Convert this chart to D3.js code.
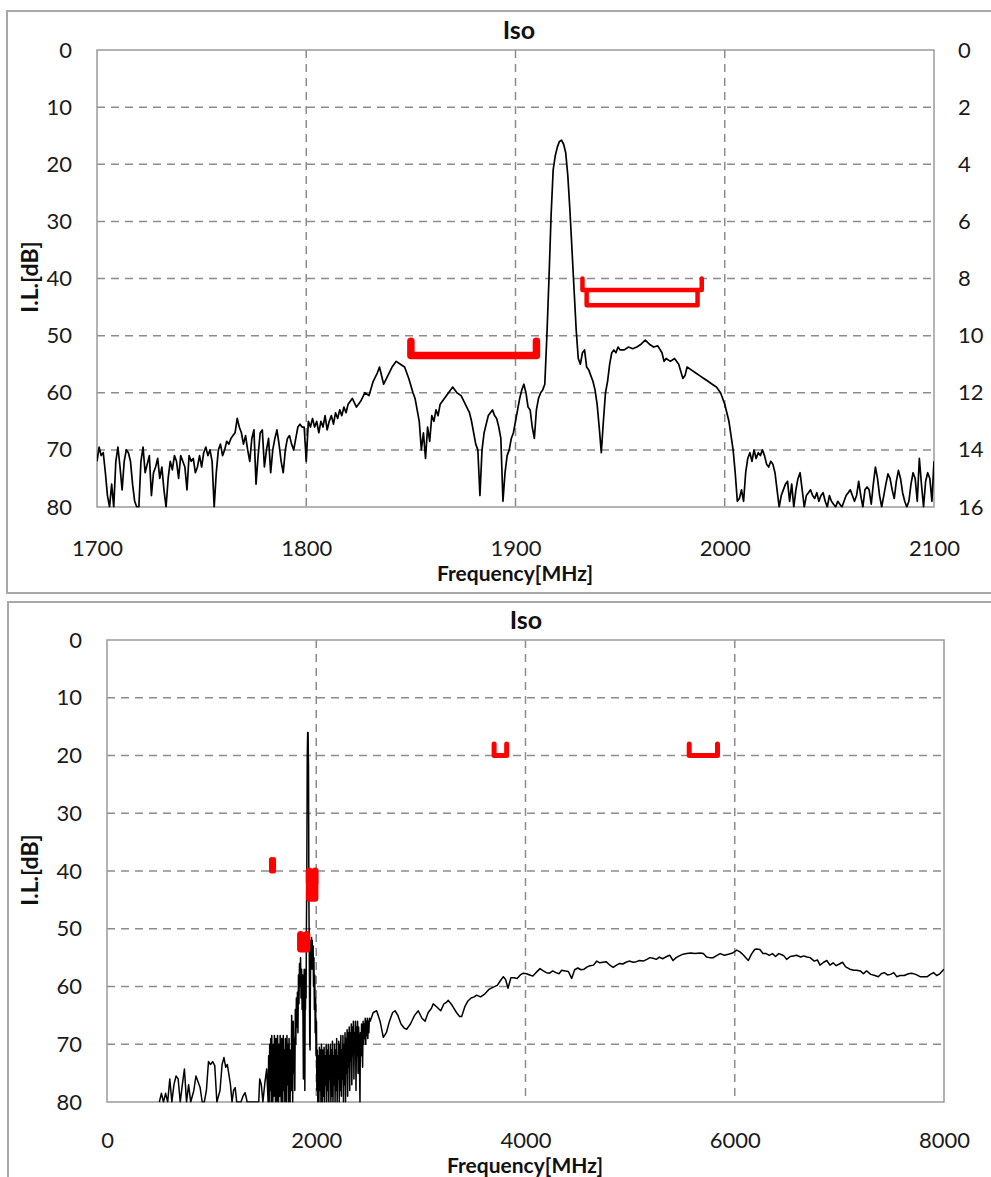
<!DOCTYPE html>
<html>
<head>
<meta charset="utf-8">
<script src="https://cdn.jsdelivr.net/npm/d3@7"></script>
<style>
  body { margin: 0; background: #fff; }
  svg { display: block; font-family: Lato, "Open Sans", sans-serif; }
</style>
</head>
<body>
<svg width="991" height="1177"></svg>
<script>
// ---- data ----
// narrow sweep (top panel), MHz / dB
const topFreq = [1700,1701,1702,1703,1704,1705,1706,1707,1708,1709,1710,1711,1712,1713,1714,1715,1716,1717,1718,1719,1720,1721,1722,1723,1724,1725,1726,1727,1728,1729,1730,1731,1732,1733,1734,1735,1736,1737,1738,1739,1740,1741,1742,1743,1744,1745,1746,1747,1748,1749,1750,1751,1752,1753,1754,1755,1756,1757,1758,1759,1760,1761,1762,1763,1764,1765,1766,1767,1768,1769,1770,1771,1772,1773,1774,1775,1776,1777,1778,1779,1780,1781,1782,1783,1784,1785,1786,1787,1788,1789,1790,1791,1792,1793,1794,1795,1796,1797,1798,1799,1800,1801,1802,1803,1804,1805,1806,1807,1808,1809,1810,1811,1812,1813,1814,1815,1816,1817,1818,1819,1820,1822,1824,1826,1828,1830,1832,1834,1835,1837,1839,1841,1843,1845,1847,1849,1851,1852,1853,1854,1855,1856,1857,1858,1859,1860,1861,1862,1863,1864,1866,1868,1870,1872,1874,1876,1878,1879,1880,1881,1882,1883,1884,1885,1886,1887,1888,1889,1890,1891,1892,1893,1894,1895,1896,1897,1898,1899,1900,1901,1902,1903,1904,1905,1906,1907,1908,1909,1910,1911,1912,1913,1914,1915,1916,1917,1918,1919,1920,1921,1922,1923,1924,1925,1926,1927,1928,1929,1930,1931,1932,1933,1934,1935,1936,1937,1938,1939,1940,1941,1942,1943,1944,1945,1946,1947,1948,1949,1950,1952,1954,1956,1958,1960,1962,1964,1966,1968,1970,1971,1972,1974,1976,1978,1980,1981,1982,1984,1986,1988,1990,1992,1994,1996,1998,2000,2002,2004,2005,2006,2007,2008,2009,2010,2011,2012,2013,2014,2015,2016,2017,2018,2019,2020,2021,2022,2023,2024,2025,2026,2027,2028,2029,2030,2031,2032,2033,2034,2035,2036,2037,2038,2039,2040,2041,2042,2043,2044,2045,2046,2047,2048,2049,2050,2051,2052,2053,2054,2055,2056,2057,2058,2059,2060,2061,2062,2063,2064,2065,2066,2067,2068,2069,2070,2071,2072,2073,2074,2075,2076,2077,2078,2079,2080,2081,2082,2083,2084,2085,2086,2087,2088,2089,2090,2091,2092,2093,2094,2095,2096,2097,2098,2099,2100];
const topLoss = [72,69.5,71,70.5,74,78,80,76,80,72,69.5,73,77,72,70,70.5,72,76,79,80,80,72,69.5,74,72.5,71,78,74,73,71.5,75,73,77,80,75,72,73.5,71,72,75,71,72,73,77,71,72,71.5,74,73,71,73,70.5,69.5,71,70,72,80,74,70,69,71,70,68.5,69,68,67.5,67,64.5,66,67,69,67.5,70,72,68,66.5,76,71,67,66.5,73,70,68,74,70,68,66.5,69,72,74,70,68,67.5,69,70,68,66,65.5,66,66,72,65,66,64.5,66,65,67,65,66,64,66.5,65,64,65.5,63.5,64.5,63,64,62.5,63.5,62,61,62.5,61.5,60,60.5,58,56.5,55.5,58.5,57,55.5,54.5,55,55.5,57.5,60,61,63,65,70,67,71.5,66,68.5,64,65,63,64,62,61,60,59,60,60.5,62,63.5,65,67,69,70,78,70,67,65.5,64,63.5,63,64,64.5,66,68,79,74,71,70,68,67,65,63,61,59.5,58.5,60,62.5,63,66,68,63,61,60,59.5,58.5,50,40,29,21,18.5,17,16,15.8,16.5,18,22,28,35,42,49,54,55,53,52.5,55.5,56,57,58,59.5,62,66,70.5,65,60,58,55,53,52.5,53,52,52.5,52.5,52,52.3,52,51.5,50.8,51.5,52,51.8,53,54.5,54,54.5,54,55,57.5,57,55.5,56,56.5,57,57.5,58,58.5,59,60,62,65,70,74,79,78.5,77,79,74,71.5,70.5,72,70,71.5,70.5,71,70,71,72.5,73,72,72.5,74,77,80,78,77,76,75.5,79,76,80,77,75,74,77,80,78,77.5,77,78,78.5,77.5,79,78,77.5,79,80,78,79,79.5,80,79,79.5,80,79,78,77.5,77,78,79,78,75.5,78,80,77,76.5,77,79.5,76,73,75,78,80,78,76,74.2,75,77,78.5,75.5,73.6,75,77.5,79,80,79,76,74,75,79,71.5,76,80,75.5,74,75,79,72];

// wide sweep (bottom panel), MHz / dB
const wideFreq = [500,520,540,560,580,600,620,640,660,680,700,720,740,760,780,800,830,850,870,890,910,930,950,970,990,1010,1030,1050,1080,1100,1118,1135,1150,1165,1180,1195,1210,1225,1240,1260,1280,1300,1320,1340,1360,1400,1430,1450,1460,1475,1490,1510,1526,
  1540,1545,1550,1555,1560,1565,1570,1575,1580,1585,1590,1595,1600,1605,1610,1615,1620,1625,1630,1635,1640,1645,1650,1655,1660,1665,1670,1675,1680,1685,1690,1695,1700,1705,1710,1715,1720,1725,1730,1735,1740,1745,1750,1755,1760,1765,1770,1775,1780,1785,1790,1795,1800,1805,1810,1815,1820,1825,1830,1835,1840,1845,1850,1855,1860,1865,1870,1875,
  1877,1880,1885,1888,1891,1894,1897,1900,1903,1906,
  1910,1914,1918,1922,1926,1930,1934,1938,1941,1944,1948,1952,1955,1958,1962,1966,1970,1974,1978,1982,1986,1990,1994,1998,2002,2006,2010,
  2015,2020,2025,2030,2035,2040,2045,2050,2055,2060,2065,2070,2075,2080,2085,2090,2095,2100,2105,2110,2115,2120,2125,2130,2135,2140,2145,2150,2155,2160,2165,2170,2175,2180,2185,2190,2195,2200,2205,2210,2215,2220,2225,2230,2235,2240,2245,2250,2255,2260,2265,2270,2275,2280,2285,2290,2295,2300,2305,2310,2315,2320,2325,2330,2335,2340,2345,2350,2355,2360,2365,2370,2375,2380,2385,2390,2395,2400,2405,2410,2415,
  2418,2422,2428,2433,2438,2443,2448,2453,2458,2463,2468,2473,2478,2483,2488,2493,2498,2503,2508,2515,
  2545,2577,2610,2641,2670,2700,2730,2753,2780,2810,2840,2864,2900,2940,2975,3010,3040,3070,3100,3118,3150,3190,3220,3240,3262,3300,3340,3370,3390,3420,3450,3480,3510,3533,3570,3610,3650,3693,3730,3760,3788,3810,3833,3860,3890,3920,3950,3979,4010,4040,4070,4100,4139,4170,4200,4230,4260,4290,4320,4346,4380,4410,4441,4470,4500,4530,4560,4590,4617,4650,4681,4710,4740,4770,4800,4838,4870,4900,4930,4960,4990,5030,5060,5090,5125,5160,5190,5220,5250,5280,5310,5350,5380,5410,5440,5470,5506,5540,5580,5620,5668,5700,5730,5760,5795,5830,5860,5900,5940,5980,6019,6050,6080,6110,6130,6160,6190,6210,6240,6270,6300,6330,6360,6390,6420,6450,6470,6496,6530,6560,6590,6630,6660,6690,6720,6760,6790,6815,6850,6880,6910,6940,6970,7000,7030,7060,7100,7140,7166,7200,7230,7260,7300,7340,7372,7400,7430,7460,7490,7520,7548,7580,7620,7660,7690,7730,7771,7810,7840,7870,7900,7930,7960,7990,8000];
const wideLoss = [80,78.5,80,78.5,80,76,80,77,75.5,76,80,77,74.3,80,77,80,78,75.5,76.5,77.5,80,80,78,73,73.5,73,73.7,80,78,73.5,72.3,74,73.5,75.2,77,80,78,77.5,80,80,80,79,78.4,80,80,80,80,80,76,77,80,76.5,74.3,
  80,72,80,70,78,69,80,68.5,76,80,70,79,68.5,75,80,69,77,80,68.5,73,80,70,79,68.5,76,80,69,74,80,68.5,78,71,80,69,75,80,68.5,77,70,80,69,76,80,71,78,65,72,80,66,75,69,78,64,70,62,67,61,68,58,63,56,60,55,62,57,64,58,70,
  76,62,57,66,78,60,64,57,62,50,
  40,20,16,16,22,45,56,70,71,60,52,57,51.5,55,52,57,53,60,55,64,58,68,62,72,66,78,71,
  80,72,80,70.5,78,71,80,70,76,80,71,79,70.5,80,72,77,70,80,71,78,70,80,72,76,70,80,71,79,69.5,80,72,77,70,80,71,78,69,80,72,76,69.5,80,70,78,68.5,79,71,76,68.5,80,70,77,68,80,69,75,67.5,79,68,74,67,78,68,73,66.5,77,67,72,66,76,68,71,66,78,67,72,66,75,67,70,76,
  80,68,72,66.5,70,74,66,70,66.5,69,65.5,70,66,68.5,65.5,69,66,68,65.5,66,
  64.5,64.2,66,68.8,68,66,64.5,64.2,65,66.5,67.2,67.4,66.5,65,64.2,65.5,66,64.5,63.8,63,63.5,64.2,63,62.8,62.4,63.3,64.5,65.2,65.2,63.5,62.5,62,61.8,61.5,61.8,61.3,60.5,60.1,59.8,59,58.3,58.8,60.3,58.5,58.5,58.6,58,57.7,57.8,58,58.2,57.6,56.9,57.3,57.6,57.7,57.3,57.6,57.8,57.2,57.3,57.4,58.6,57.1,56.8,57.1,57,56.6,56.4,56.3,55.6,55.9,55.8,55.7,56.2,56.7,56.3,56,56.1,55.8,55.6,55.8,55.7,55.5,55.6,55.3,55,55.1,55.3,54.9,55.2,54.8,54.6,55.5,55,54.7,54.4,54.3,54.2,54.3,54.2,54.3,54.9,55,55,54.6,54.3,54.6,54.4,54.2,53.7,54,54.5,55.1,55.5,54.4,53.6,53.5,53.6,54.3,54.3,54.6,54.3,54.8,54.3,54.5,54.7,55.3,54.8,54.7,54.6,54.9,54.7,54.9,55,55.6,55.4,56.3,55.8,55.5,56.3,55.9,56.4,56.1,55.8,56.6,57,57.2,57.2,57.3,57.8,57.3,57.9,58.1,58.3,57.8,57.6,58,57.9,57.6,58.3,58.1,58.1,57.8,57.7,57.9,58.3,58.3,58.3,57.9,57.6,58.1,57.8,57.2,57];

// spec masks (red brackets): band edges in MHz, floor level and end-tick level in dB
const maskStart = [1850, 1932, 1934, 1572, 3700, 5565];
const maskStop  = [1910, 1989, 1987, 1592, 3820, 5835];
const maskLevel = [53.5, 42, 44.7, 40, 20, 20];
const maskEdge  = [51, 40, 42.3, 38, 18, 18];

// axis ticks
const lossTicks = [0, 10, 20, 30, 40, 50, 60, 70, 80];
const rightTicks = [0, 2, 4, 6, 8, 10, 12, 14, 16];
const topFreqTicks = [1700, 1800, 1900, 2000, 2100];
const wideFreqTicks = [0, 2000, 4000, 6000, 8000];

const svg = d3.select("svg");
const toPoints = (fs, ls) => fs.map((f, i) => ({ f: f, l: ls[i] }));

const panels = [
  {
    id: "top",
    frame: { x: 7, y: 11, w: 992, h: 582 },
    plot: { l: 97, t: 50, r: 934, b: 507 },
    xDomain: [1700, 2100], xTicks: topFreqTicks,
    points: toPoints(topFreq, topLoss),
    right: true,
    titleX: 519, titleY: 39,
    xTickPad: 33,
    xTitleX: 515, xTitleY: 581,
    yTitleY: 277,
    lineWidth: 1.7,
    maskWidth: [7.5, 4.5, 4.5, 4.5, 4.5, 4.5]
  },
  {
    id: "bottom",
    frame: { x: 8, y: 602, w: 992, h: 600 },
    plot: { l: 107, t: 640, r: 944, b: 1102 },
    xDomain: [0, 8000], xTicks: wideFreqTicks,
    points: toPoints(wideFreq, wideLoss),
    right: false,
    titleX: 526, titleY: 629,
    xTickPad: 30,
    xTitleX: 525, xTitleY: 1173,
    yTitleY: 870,
    lineWidth: 1.5,
    maskWidth: [7, 7, 7, 5, 5, 5]
  }
];

const drawPanel = (p) => {
  const { l, t, r, b } = p.plot;

  // outer chart frame
  svg.append("rect")
    .attr("x", p.frame.x).attr("y", p.frame.y)
    .attr("width", p.frame.w).attr("height", p.frame.h)
    .attr("fill", "#fff").attr("stroke", "#a8a8a8").attr("stroke-width", 2);

  const x = d3.scaleLinear().domain(p.xDomain).range([l, r]);
  const y = d3.scaleLinear().domain([0, 80]).range([t, b]);

  // dashed grid
  svg.append("g").selectAll("line").data(lossTicks.slice(1, -1)).join("line")
    .attr("x1", l).attr("x2", r)
    .attr("y1", (d) => y(d)).attr("y2", (d) => y(d))
    .attr("stroke", "#8c8c8c").attr("stroke-width", 1.5).attr("stroke-dasharray", "8,6");
  svg.append("g").selectAll("line").data(p.xTicks.slice(1, -1)).join("line")
    .attr("x1", (d) => x(d)).attr("x2", (d) => x(d))
    .attr("y1", t).attr("y2", b)
    .attr("stroke", "#8c8c8c").attr("stroke-width", 1.5).attr("stroke-dasharray", "8,6");

  // plot area border
  svg.append("rect")
    .attr("x", l).attr("y", t).attr("width", r - l).attr("height", b - t)
    .attr("fill", "none").attr("stroke", "#9a9a9a").attr("stroke-width", 1.5);

  // clip to the plot area
  svg.append("clipPath").attr("id", "clip-" + p.id)
    .append("rect").attr("x", l).attr("y", t - 1).attr("width", r - l).attr("height", b - t + 1.5);

  const line = d3.line().x((d) => x(d.f)).y((d) => y(d.l));
  svg.append("path")
    .datum(p.points)
    .attr("clip-path", `url(#clip-${p.id})`)
    .attr("d", line)
    .attr("fill", "none").attr("stroke", "#000")
    .attr("stroke-width", p.lineWidth).attr("stroke-linejoin", "round");

  // red spec brackets
  svg.append("g").attr("clip-path", `url(#clip-${p.id})`)
    .selectAll("path").data(maskStart.map((s, i) => i)).join("path")
    .attr("d", (i) => `M${x(maskStart[i])},${y(maskEdge[i])}L${x(maskStart[i])},${y(maskLevel[i])}` +
      `L${x(maskStop[i])},${y(maskLevel[i])}L${x(maskStop[i])},${y(maskEdge[i])}`)
    .attr("fill", "none").attr("stroke", "#ff0000")
    .attr("stroke-width", (i) => p.maskWidth[i])
    .attr("stroke-linejoin", "round").attr("stroke-linecap", "round");

  // axes
  const leftAxis = svg.append("g")
    .attr("transform", `translate(${l},0)`)
    .call(d3.axisLeft(y).tickValues(lossTicks).tickSize(0).tickPadding(25));
  const bottomAxis = svg.append("g")
    .attr("transform", `translate(0,${b})`)
    .call(d3.axisBottom(x).tickValues(p.xTicks).tickFormat(d3.format("d")).tickSize(0).tickPadding(p.xTickPad));
  const axes = [leftAxis, bottomAxis];
  if (p.right) {
    const y2 = d3.scaleLinear().domain([0, 16]).range([t, b]);
    axes.push(svg.append("g")
      .attr("transform", `translate(${r},0)`)
      .call(d3.axisRight(y2).tickValues(rightTicks).tickSize(0).tickPadding(24)));
  }
  axes.forEach((a) => {
    a.select(".domain").remove();
    a.selectAll("text").attr("font-size", 22).attr("fill", "#1a1a1a")
      .attr("font-family", 'Lato, "Open Sans", sans-serif');
  });

  // titles
  svg.append("text")
    .attr("x", p.titleX).attr("y", p.titleY)
    .attr("text-anchor", "middle").attr("font-weight", "bold").attr("font-size", 25)
    .attr("fill", "#111").text("Iso");
  svg.append("text")
    .attr("x", p.xTitleX).attr("y", p.xTitleY)
    .attr("text-anchor", "middle").attr("font-weight", "bold").attr("font-size", 21)
    .attr("fill", "#111").text("Frequency[MHz]");
  svg.append("text")
    .attr("transform", `translate(38,${p.yTitleY}) rotate(-90)`)
    .attr("text-anchor", "middle").attr("font-weight", "bold").attr("font-size", 23)
    .attr("fill", "#111").text("I.L.[dB]");
};

panels.forEach(drawPanel);
</script>
</body>
</html>
